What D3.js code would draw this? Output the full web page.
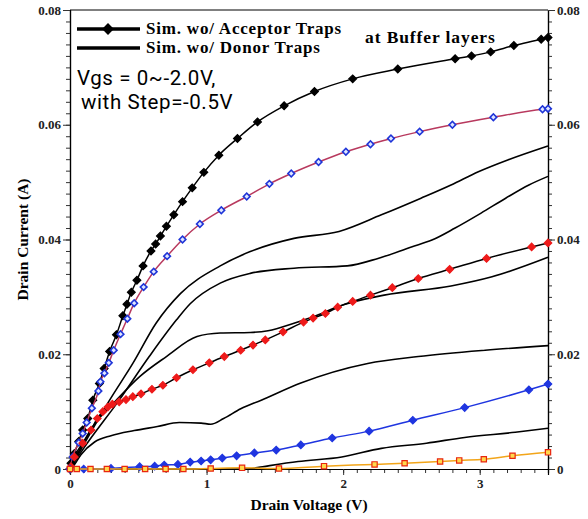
<!DOCTYPE html>
<html>
<head>
<meta charset="utf-8">
<script src="https://cdn.jsdelivr.net/npm/d3@7"></script>
<style>
  body { margin: 0; background: #fff; }
</style>
</head>
<body>
<div id="chart"></div>
<script>
// I-V data: [drain voltage (V), drain current (A)]

// simulation without acceptor traps (markers), Vgs = 0 .. -2.0 V
const accVgs0 = [[0,0],[0.007,0.001],[0.032,0.0027],[0.064,0.0048],[0.093,0.0068],[0.13,0.0088],[0.167,0.012],[0.215,0.0149],[0.25,0.0175],[0.29,0.0205],[0.34,0.0234],[0.387,0.0267],[0.417,0.0287],[0.449,0.0308],[0.49,0.0329],[0.535,0.0354],[0.593,0.038],[0.627,0.0392],[0.662,0.0406],[0.706,0.0423],[0.76,0.0443],[0.824,0.0466],[0.895,0.049],[0.98,0.0517],[1.09,0.0547],[1.226,0.0576],[1.373,0.0605],[1.568,0.0633],[1.79,0.0658],[2.07,0.068],[2.4,0.0697],[2.82,0.0715],[2.94,0.072],[3.08,0.0727],[3.25,0.0738],[3.45,0.0749],[3.5,0.0752]];
const accVgs05 = [[0,0],[0.02,0.0021],[0.064,0.0046],[0.093,0.0062],[0.122,0.0081],[0.16,0.0106],[0.208,0.0136],[0.223,0.0152],[0.252,0.0167],[0.284,0.0185],[0.32,0.0207],[0.37,0.0235],[0.42,0.0262],[0.47,0.0289],[0.539,0.0317],[0.613,0.0344],[0.711,0.0371],[0.824,0.04],[0.951,0.0427],[1.108,0.0451],[1.294,0.0475],[1.46,0.0497],[1.62,0.0515],[1.82,0.0535],[2.02,0.0553],[2.2,0.0566],[2.35,0.0576],[2.56,0.0588],[2.8,0.06],[3.1,0.0613],[3.46,0.0627],[3.5,0.0628]];
const accVgs10 = [[0,0],[0.007,0.0004],[0.032,0.0021],[0.093,0.0045],[0.154,0.0068],[0.2,0.0088],[0.24,0.01],[0.277,0.0108],[0.31,0.0113],[0.36,0.0117],[0.41,0.0121],[0.46,0.0126],[0.52,0.0131],[0.6,0.0139],[0.68,0.0146],[0.78,0.0159],[0.9,0.0173],[1.02,0.0185],[1.13,0.0196],[1.25,0.0207],[1.34,0.0216],[1.43,0.0225],[1.56,0.0239],[1.71,0.0256],[1.78,0.0263],[1.87,0.0271],[1.96,0.0282],[2.07,0.0292],[2.2,0.0303],[2.36,0.0316],[2.55,0.0332],[2.78,0.0348],[3.05,0.0367],[3.38,0.0387],[3.5,0.0394]];
const accVgs15 = [[0,0],[0.1,0],[0.3,0.0001],[0.51,0.0004],[0.62,0.0005],[0.69,0.0007],[0.79,0.0008],[0.88,0.0012],[0.96,0.0014],[1.03,0.0016],[1.115,0.0019],[1.22,0.0023],[1.35,0.0028],[1.51,0.0033],[1.69,0.0042],[1.92,0.0054],[2.19,0.0066],[2.51,0.0085],[2.89,0.0107],[3.36,0.0138],[3.5,0.0148]];
const accVgs20 = [[0,0],[0.05,0],[0.15,0],[0.27,0],[0.4,0],[0.55,0],[0.7,0],[0.83,0],[1.03,0.0001],[1.26,0.0002],[1.53,0.0001],[1.86,0.0005],[2.23,0.0008],[2.45,0.001],[2.71,0.0013],[2.85,0.0015],[3.03,0.0017],[3.24,0.0023],[3.5,0.0029]];

// simulation without donor traps (plain black lines)
const donVgs0 = [[0,0],[0.1,0.0042],[0.29,0.012],[0.46,0.0184],[0.63,0.0254],[0.81,0.0306],[1.1,0.0354],[1.32,0.0379],[1.64,0.0402],[1.97,0.0414],[2.28,0.0443],[2.57,0.0472],[2.79,0.0495],[2.99,0.0518],[3.21,0.0539],[3.5,0.0563]];
const donVgs05 = [[0,0],[0.1,0.0036],[0.36,0.012],[0.58,0.0196],[0.78,0.026],[0.88,0.0288],[1.1,0.0324],[1.32,0.0341],[1.64,0.035],[2.03,0.0354],[2.255,0.0367],[2.5,0.0387],[2.65,0.0399],[2.82,0.042],[3.01,0.0446],[3.19,0.0472],[3.36,0.0495],[3.5,0.051]];
const donVgs10 = [[0,0],[0.167,0.0074],[0.34,0.012],[0.51,0.0161],[0.706,0.0196],[0.93,0.0231],[1.1,0.0237],[1.32,0.0238],[1.45,0.0241],[1.64,0.0254],[1.81,0.0268],[1.96,0.0283],[2.3,0.0303],[2.79,0.0319],[3.09,0.0335],[3.5,0.0369]];
const donVgs15 = [[0,0],[0.02,0.0004],[0.08,0.0025],[0.18,0.0047],[0.3,0.0058],[0.47,0.0067],[0.64,0.0074],[0.8,0.0081],[0.96,0.008],[1.03,0.0078],[1.125,0.0088],[1.25,0.0105],[1.4,0.012],[1.69,0.015],[2.18,0.0184],[2.55,0.0196],[3.04,0.0207],[3.5,0.0215]];
const donVgs20 = [[0,0],[1.3,0],[1.41,0.0004],[1.67,0.0013],[1.99,0.0021],[2.28,0.0036],[2.61,0.0045],[2.89,0.0055],[3.26,0.0064],[3.5,0.0071]];

const yTicks = [0, 0.02, 0.04, 0.06, 0.08];
const xTicks = [0, 1, 2, 3];

//dimensions and margins of the graph
const margin = {top: 10, right: 40, bottom: 50, left: 70};
const width = 588 - margin.left - margin.right;
const height = 519 - margin.top - margin.bottom;

const svg = d3.select("#chart")
    .append("svg")
    .attr("width", width + margin.left + margin.right)
    .attr("height", height + margin.top + margin.bottom)
    .append("g")
    .attr("transform", "translate(" + margin.left + "," + margin.top + ")");

const x = d3.scaleLinear().domain([0, 3.5]).range([0, width]);
const y = d3.scaleLinear().domain([0, 0.08]).range([height, 0]);

const serif = "'Liberation Serif', 'Times New Roman', serif";

// minor ticks first, then major ticks with labels
const yMinor = d3.range(0, 0.0801, 0.002);
const xMinor = d3.range(0, 3.501, 0.1);

svg.append("g").call(d3.axisLeft(y).tickValues(yMinor).tickSize(4).tickFormat(""));
svg.append("g").attr("transform", "translate(" + width + ",0)")
    .call(d3.axisRight(y).tickValues(yMinor).tickSize(4).tickFormat(""));
svg.append("g").attr("transform", "translate(0," + height + ")")
    .call(d3.axisBottom(x).tickValues(xMinor).tickSize(4).tickFormat(""));

svg.append("g").attr("class", "yl")
    .call(d3.axisLeft(y).tickValues(yTicks).tickSize(7).tickFormat(d => d === 0 ? "0" : d3.format(".2f")(d)));
svg.append("g").attr("class", "yr")
    .attr("transform", "translate(" + width + ",0)")
    .call(d3.axisRight(y).tickValues(yTicks).tickSize(7).tickFormat(d => d === 0 ? "0" : d3.format(".2f")(d)));
svg.append("g").attr("class", "xb")
    .attr("transform", "translate(0," + height + ")")
    .call(d3.axisBottom(x).tickValues(xTicks).tickSize(6).tickFormat(d3.format("d")));

// top frame line
svg.append("line")
    .attr("x1", 0).attr("x2", width).attr("y1", 0).attr("y2", 0)
    .attr("stroke", "#000").attr("stroke-width", 1);

svg.selectAll(".domain").attr("stroke", "#000").attr("stroke-width", 1.2);
svg.selectAll(".tick line").attr("stroke", "#333");
svg.selectAll(".tick text")
    .style("font-family", serif)
    .style("font-weight", "bold")
    .style("font-size", "13px")
    .attr("fill", "#222");
svg.selectAll(".yl .tick text").attr("x", -9);
svg.selectAll(".yr .tick text").attr("x", 9);
svg.selectAll(".xb .tick text").attr("y", 10);

const line = d3.line()
    .x(d => x(d[0]))
    .y(d => y(d[1]))
    .curve(d3.curveMonotoneX);

// donor trap curves
[donVgs0, donVgs05, donVgs10, donVgs15, donVgs20].forEach(s => {
    svg.append("path")
        .datum(s)
        .attr("fill", "none")
        .attr("stroke", "#000")
        .attr("stroke-width", 1.6)
        .attr("d", line);
});

// acceptor trap curves with markers
const accSeries = [
    {data: accVgs0, line: "#000", size: 30, stroke: "#000", fill: "#000", shape: "diamond"},
    {data: accVgs05, line: "#b8395e", size: 22, stroke: "#1f35d8", fill: "#dfe6ff", shape: "diamond"},
    {data: accVgs10, line: "#000", size: 28, stroke: "#ee1a1a", fill: "#ee1a1a", shape: "diamond"},
    {data: accVgs15, line: "#1f35e0", size: 28, stroke: "#1f35e0", fill: "#1f35e0", shape: "diamond"},
    {data: accVgs20, line: "#f2a51a", size: 28, stroke: "#e8250f", fill: "#ffd84d", shape: "square"}
];

accSeries.forEach(s => {
    svg.append("path")
        .datum(s.data)
        .attr("fill", "none")
        .attr("stroke", s.line)
        .attr("stroke-width", 1.5)
        .attr("d", line);

    svg.selectAll(null)
        .data(s.data)
        .enter().append("path")
        .attr("d", d3.symbol(d3.symbolSquare, s.size))
        .attr("transform", d => "translate(" + x(d[0]) + "," + y(d[1]) + ")" + (s.shape === "diamond" ? " rotate(45)" : ""))
        .attr("fill", s.fill)
        .attr("stroke", s.stroke)
        .attr("stroke-width", s.shape === "diamond" && s.fill !== s.stroke ? 1.6 : 1.2);
});

// legend
const legend = svg.append("g");
legend.append("line")
    .attr("x1", 7).attr("x2", 70).attr("y1", 19).attr("y2", 19)
    .attr("stroke", "#000").attr("stroke-width", 3.5);
legend.append("path")
    .attr("d", d3.symbol(d3.symbolSquare, 70))
    .attr("transform", "translate(38,19) rotate(45)")
    .attr("fill", "#000");
legend.append("line")
    .attr("x1", 7).attr("x2", 70).attr("y1", 38).attr("y2", 38)
    .attr("stroke", "#000").attr("stroke-width", 3.5);
legend.append("text")
    .attr("x", 76).attr("y", 24)
    .style("font-family", serif).style("font-weight", "bold").style("font-size", "17px")
    .style("letter-spacing", "0.8px")
    .text("Sim. wo/ Acceptor Traps");
legend.append("text")
    .attr("x", 76).attr("y", 43)
    .style("font-family", serif).style("font-weight", "bold").style("font-size", "17px")
    .style("letter-spacing", "0.8px")
    .text("Sim. wo/ Donor Traps");
legend.append("text")
    .attr("x", 295).attr("y", 33)
    .style("font-family", serif).style("font-weight", "bold").style("font-size", "17.5px")
    .style("letter-spacing", "0.9px")
    .text("at Buffer layers");

svg.append("text")
    .attr("x", 7).attr("y", 75)
    .style("font-family", "Roboto, sans-serif").style("font-size", "20.5px")
    .style("letter-spacing", "0.6px")
    .text("Vgs = 0~-2.0V,");
svg.append("text")
    .attr("x", 11).attr("y", 99)
    .style("font-family", "Roboto, sans-serif").style("font-size", "20.5px")
    .style("letter-spacing", "0.6px")
    .text("with Step=-0.5V");

// axis titles
svg.append("text")
    .attr("transform", "translate(" + (width / 2) + "," + (height + 41) + ")")
    .style("text-anchor", "middle")
    .style("font-family", serif).style("font-weight", "bold").style("font-size", "15.5px")
    .text("Drain Voltage (V)");

svg.append("text")
    .attr("transform", "translate(-42," + (height / 2) + ") rotate(-90)")
    .style("text-anchor", "middle")
    .style("font-family", serif).style("font-weight", "bold").style("font-size", "15.5px")
    .text("Drain Current (A)");
</script>
</body>
</html>
